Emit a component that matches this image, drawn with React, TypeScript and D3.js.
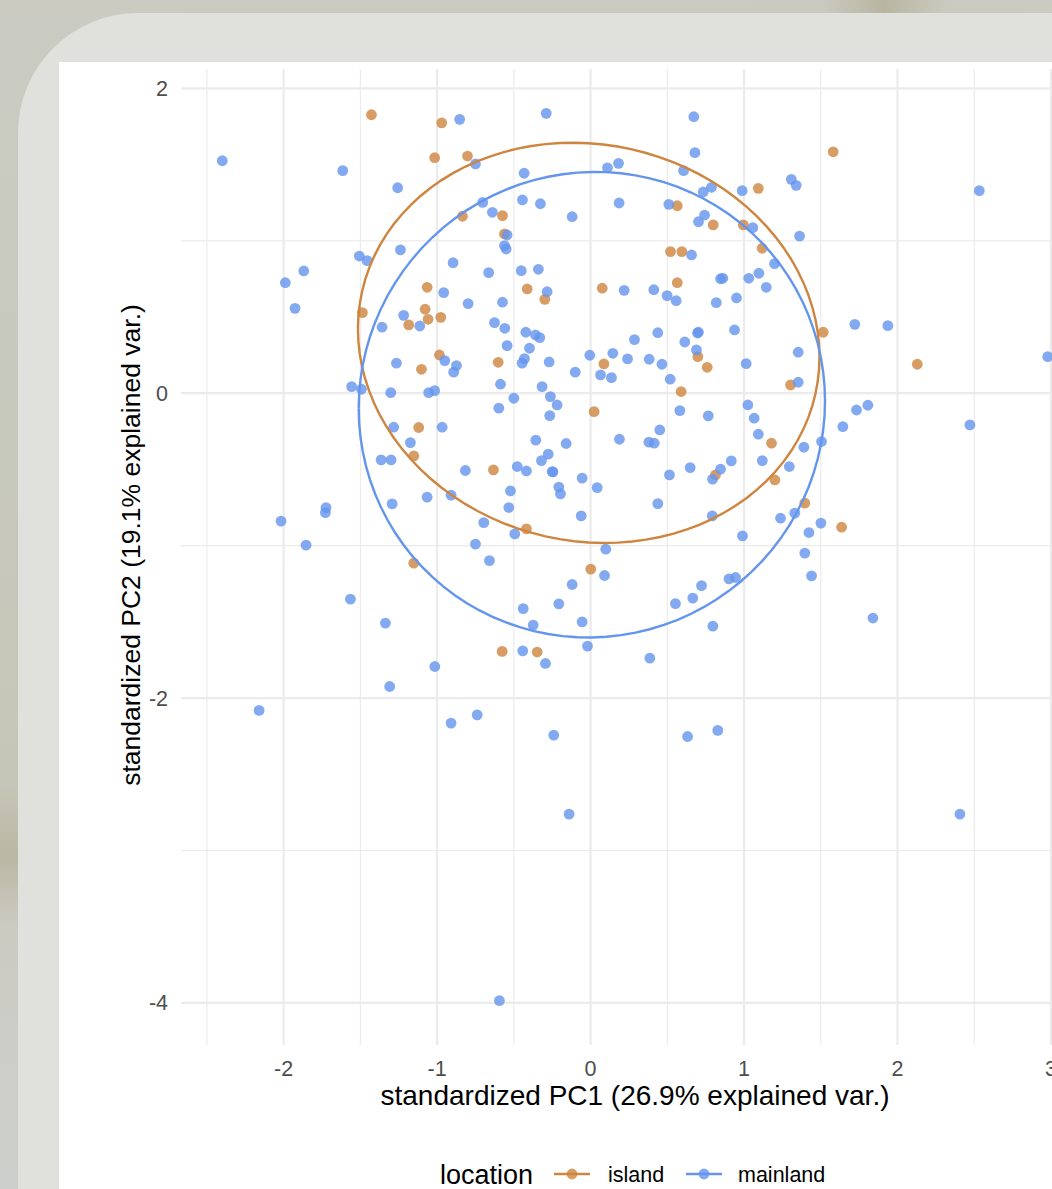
import * as d3 from "d3";

// PCA scores (standardized PC1, PC2)
const islandScores: [number, number][] = [
  [-1.428, 1.827], [-0.970, 1.774], [-1.016, 1.545], [-0.802, 1.556], [-0.574, 1.165], [-0.835, 1.161],
  [-0.561, 1.045], [-1.065, 0.695], [-1.078, 0.551], [-1.059, 0.485], [-0.976, 0.498], [-1.185, 0.448],
  [-1.487, 0.529], [-0.985, 0.251], [-1.102, 0.157], [-0.602, 0.203],
  [1.581, 1.584], [0.565, 1.230], [0.799, 1.104], [1.093, 1.344], [0.995, 1.104], [1.118, 0.951],
  [0.521, 0.929], [0.595, 0.929], [-0.413, 0.684], [-0.298, 0.616], [0.076, 0.689], [0.565, 0.725],
  [0.087, 0.192], [0.699, 0.240], [0.760, 0.170], [0.590, 0.011], [1.303, 0.054], [1.516, 0.400],
  [2.129, 0.190],
  [-1.120, -0.225], [-1.152, -0.411], [-1.152, -1.115],
  [0.023, -0.121], [-0.633, -0.503], [0.814, -0.536], [-0.418, -0.890], [0.001, -1.154], [-0.576, -1.694],
  [-0.348, -1.698],
  [1.179, -0.328], [1.201, -0.569], [1.396, -0.721], [1.636, -0.879],
];

const mainlandScores: [number, number][] = [
  [-2.40, 1.525], [-0.853, 1.797], [-1.615, 1.460], [-1.257, 1.348], [-0.750, 1.504], [-0.703, 1.252],
  [-0.640, 1.187], [-0.544, 1.038], [-0.561, 0.968], [-0.550, 0.946], [-1.507, 0.900], [-1.456, 0.870],
  [-1.239, 0.940], [-1.869, 0.802], [-1.989, 0.725], [-1.926, 0.557], [-0.896, 0.856], [-0.664, 0.791],
  [-0.957, 0.660], [-0.798, 0.588], [-0.574, 0.597], [-1.218, 0.511], [-1.113, 0.441], [-1.359, 0.433],
  [-0.626, 0.463], [-0.559, 0.426], [-0.544, 0.312], [-0.950, 0.214], [-0.874, 0.181], [-0.892, 0.138],
  [-1.265, 0.197], [-0.587, 0.059], [-1.557, 0.043], [-1.493, 0.026], [-1.302, 0.004], [-1.055, 0.004],
  [-1.016, 0.017],
  [-0.289, 1.836], [0.673, 1.814], [0.680, 1.578], [-0.433, 1.443], [-0.444, 1.268], [-0.327, 1.243],
  [-0.120, 1.158], [0.110, 1.479], [0.182, 1.508], [0.186, 1.248], [0.606, 1.460], [0.510, 1.239],
  [0.734, 1.320], [0.788, 1.351], [0.743, 1.169], [0.703, 1.125], [0.988, 1.329], [1.308, 1.403],
  [1.340, 1.364], [1.057, 1.086], [1.362, 1.031], [1.199, 0.850], [0.658, 0.907], [-0.452, 0.804],
  [-0.340, 0.813], [-0.283, 0.666], [0.219, 0.675], [0.412, 0.679], [0.499, 0.640], [0.558, 0.607],
  [0.819, 0.594], [0.847, 0.751], [0.862, 0.754], [0.951, 0.625], [1.031, 0.754], [1.097, 0.787],
  [1.145, 0.695], [-0.422, 0.400], [-0.359, 0.382], [-0.331, 0.365], [-0.398, 0.295], [-0.431, 0.227],
  [-0.446, 0.197], [-0.270, 0.205], [-0.100, 0.138], [-0.316, 0.043], [-0.005, 0.249], [0.145, 0.262],
  [0.065, 0.120], [0.136, 0.102], [0.241, 0.225], [0.286, 0.352], [0.382, 0.223], [0.438, 0.397],
  [0.465, 0.190], [0.519, 0.092], [0.614, 0.336], [0.703, 0.400], [0.697, 0.395], [0.690, 0.284],
  [0.938, 0.415], [1.014, 0.194], [1.353, 0.269], [1.353, 0.072],
  [2.533, 1.329], [1.722, 0.452], [1.937, 0.443], [2.979, 0.240],
  [-1.283, -0.223], [-0.967, -0.223], [-1.174, -0.324], [-1.365, -0.437], [-1.300, -0.437], [-0.816, -0.507],
  [-1.293, -0.726], [-1.065, -0.682], [-0.909, -0.669], [-1.724, -0.750], [-1.728, -0.783], [-2.017, -0.839],
  [-1.854, -0.997], [-1.565, -1.351], [-1.337, -1.508], [-1.015, -1.793], [-1.309, -1.924], [-2.160, -2.081],
  [-0.909, -2.164], [-0.739, -2.110],
  [-0.598, -0.098], [-0.500, -0.033], [-0.262, -0.022], [-0.218, -0.077], [-0.266, -0.147], [0.582, -0.114],
  [0.767, -0.149], [1.025, -0.077], [1.066, -0.164], [1.093, -0.269], [1.119, -0.442], [-0.357, -0.308],
  [-0.159, -0.330], [0.188, -0.302], [0.380, -0.321], [0.415, -0.328], [0.451, -0.241], [-0.276, -0.400],
  [-0.320, -0.442], [-0.478, -0.481], [-0.418, -0.510], [-0.250, -0.514], [-0.245, -0.516], [-0.055, -0.557],
  [0.043, -0.619], [-0.207, -0.616], [-0.196, -0.660], [-0.522, -0.641], [-0.533, -0.750], [-0.061, -0.805],
  [0.514, -0.536], [0.649, -0.488], [0.795, -0.564], [0.847, -0.498], [0.917, -0.444], [0.438, -0.724],
  [0.793, -0.805], [0.990, -0.936], [-0.696, -0.849], [-0.494, -0.923], [-0.750, -0.990], [-0.659, -1.098],
  [0.099, -1.023], [0.091, -1.196], [-0.120, -1.255], [-0.207, -1.382], [-0.439, -1.413], [-0.374, -1.521],
  [-0.055, -1.500], [-0.020, -1.659], [-0.442, -1.690], [-0.294, -1.773], [0.386, -1.738], [0.553, -1.380],
  [0.666, -1.344], [0.723, -1.262], [0.902, -1.218], [0.945, -1.209], [0.797, -1.528], [-0.240, -2.243],
  [0.632, -2.252], [0.829, -2.212], [-0.140, -2.761],
  [1.390, -0.354], [1.505, -0.317], [1.644, -0.219], [1.733, -0.110], [1.807, -0.079], [2.472, -0.208],
  [1.295, -0.481], [1.331, -0.787], [1.238, -0.820], [1.423, -0.914], [1.501, -0.852], [1.396, -1.049],
  [1.440, -1.198], [1.840, -1.475], [2.407, -2.761],
  [-0.594, -3.985],
];

const groups = ["island", "mainland"];
const xTicks = [-2, -1, 0, 1, 2, 3];
const xMinor = [-2.5, -1.5, -0.5, 0.5, 1.5, 2.5];
const yTicks = [2, 0, -2, -4];
const yMinor = [1, -1, -3];
const xTitle = "standardized PC1 (26.9% explained var.)";
const yTitle = "standardized PC2 (19.1% explained var.)";
const legendTitle = "location";
const ellipseProb = 0.68;

const colors: Record<string, string> = { island: "#cd853f", mainland: "#6495ed" };
const FONT = "'Liberation Sans', Arial, Helvetica, sans-serif";

// normal-probability ellipse like ggbiplot: mu + circle %*% chol(sigma) * ed
function ellipse(pts: [number, number][]) {
  const n = pts.length;
  const mx = d3.mean(pts, (d) => d[0]) as number;
  const my = d3.mean(pts, (d) => d[1]) as number;
  let sxx = 0, syy = 0, sxy = 0;
  pts.forEach(([x, y]) => {
    sxx += (x - mx) ** 2;
    syy += (y - my) ** 2;
    sxy += (x - mx) * (y - my);
  });
  sxx /= n - 1; syy /= n - 1; sxy /= n - 1;
  const r11 = Math.sqrt(sxx);
  const r12 = sxy / r11;
  const r22 = Math.sqrt(syy - r12 * r12);
  const ed = Math.sqrt(-2 * Math.log(1 - ellipseProb));
  return d3.range(0, 101).map((i) => {
    const t = -Math.PI + (2 * Math.PI * i) / 100;
    return [mx + ed * Math.cos(t) * r11, my + ed * (Math.cos(t) * r12 + Math.sin(t) * r22)] as [number, number];
  });
}

export default function App() {
  const W = 1052, H = 1189;
  const panel = { left: 181, right: 1089, top: 69, bottom: 1045 };

  const all = [...islandScores, ...mainlandScores];
  const [x0, x1] = d3.extent(all, (d) => d[0]) as [number, number];
  const [y0, y1] = d3.extent(all, (d) => d[1]) as [number, number];
  const ex = (x1 - x0) * 0.05, ey = (y1 - y0) * 0.05;

  const x = d3.scaleLinear().domain([x0 - ex, x1 + ex]).range([panel.left, panel.right]);
  const y = d3.scaleLinear().domain([y0 - ey, y1 + ey]).range([panel.bottom, panel.top]);

  const line = d3.line<[number, number]>().x((d) => x(d[0])).y((d) => y(d[1]));
  const series: Record<string, [number, number][]> = { island: islandScores, mainland: mainlandScores };

  const cardPath = `M18,${H} L18,133 A120,120 0 0 1 138,13 L${W},13 L${W},${H} Z`;
  const legendItems = [
    { key: "island", lx: 572, tx: 608 },
    { key: "mainland", lx: 704, tx: 738 },
  ];

  return (
    <div style={{ position: "absolute", left: 0, top: 0 }}>
      <svg width={W} height={H} style={{ display: "block" }}>
        <defs>
          <linearGradient id="bgTop" x1="0" x2="1" y1="0" y2="0">
            <stop offset="0" stopColor="#cbcbc1" />
            <stop offset="0.78" stopColor="#cbcac0" />
            <stop offset="0.84" stopColor="#b8b5a0" />
            <stop offset="0.9" stopColor="#cacac0" />
            <stop offset="1" stopColor="#cbcbc2" />
          </linearGradient>
          <linearGradient id="bgLeft" x1="0" x2="0" y1="0" y2="1">
            <stop offset="0" stopColor="#caccc3" />
            <stop offset="0.66" stopColor="#c6c6b8" />
            <stop offset="0.72" stopColor="#b9b8a4" />
            <stop offset="0.78" stopColor="#cbcbc2" />
            <stop offset="1" stopColor="#cdcfcc" />
          </linearGradient>
        </defs>
        <rect x={0} y={0} width={W} height={H} fill="url(#bgLeft)" />
        <rect x={0} y={0} width={W} height={14} fill="url(#bgTop)" />
        <path d={cardPath} fill="#e0e0dc" />
        <rect x={59} y={62} width={W - 59} height={H - 62} fill="#ffffff" />

        {/* grid */}
        <g>
          {xMinor.map((v) => (
            <line key={"xm" + v} x1={x(v)} x2={x(v)} y1={panel.top} y2={panel.bottom} stroke="#ebebeb" strokeWidth={1.2} />
          ))}
          {yMinor.map((v) => (
            <line key={"ym" + v} y1={y(v)} y2={y(v)} x1={panel.left} x2={panel.right} stroke="#ebebeb" strokeWidth={1.2} />
          ))}
          {xTicks.map((v) => (
            <line key={"x" + v} x1={x(v)} x2={x(v)} y1={panel.top} y2={panel.bottom} stroke="#ebebeb" strokeWidth={2.2} />
          ))}
          {yTicks.map((v) => (
            <line key={"y" + v} y1={y(v)} y2={y(v)} x1={panel.left} x2={panel.right} stroke="#ebebeb" strokeWidth={2.2} />
          ))}
        </g>

        {/* points */}
        {groups.map((g) => (
          <g key={g}>
            {series[g].map((d, i) => (
              <circle key={i} cx={x(d[0])} cy={y(d[1])} r={5.4} fill={colors[g]} fillOpacity={0.8} />
            ))}
          </g>
        ))}

        {/* ellipses */}
        {groups.map((g) => (
          <path key={"e" + g} d={line(ellipse(series[g])) || ""} fill="none" stroke={colors[g]} strokeWidth={2.4} />
        ))}

        {/* axes labels */}
        <g fontFamily={FONT} fontSize={21.5} fill="#4d4d4d">
          {xTicks.map((v) => (
            <text key={"xt" + v} x={x(v)} y={1076} textAnchor="middle">{v}</text>
          ))}
          {yTicks.map((v) => (
            <text key={"yt" + v} x={168} y={y(v) + 7.5} textAnchor="end">{v}</text>
          ))}
        </g>
        <text x={(panel.left + panel.right) / 2} y={1105} textAnchor="middle" fontFamily={FONT} fontSize={28} fill="#000">
          {xTitle}
        </text>
        <text transform={`translate(140,${(panel.top + panel.bottom) / 2 - 12}) rotate(-90)`} textAnchor="middle"
          fontFamily={FONT} fontSize={26.5} fill="#000">
          {yTitle}
        </text>

        {/* legend */}
        <g fontFamily={FONT}>
          <text x={440} y={1184} fontSize={27} fill="#000">{legendTitle}</text>
          {legendItems.map((it) => (
            <g key={it.key}>
              <line x1={it.lx - 18} x2={it.lx + 18} y1={1174} y2={1174} stroke={colors[it.key]} strokeWidth={2.5} />
              <circle cx={it.lx} cy={1174} r={5.4} fill={colors[it.key]} fillOpacity={0.8} />
              <text x={it.tx} y={1182} fontSize={21.5} fill="#000">{it.key}</text>
            </g>
          ))}
        </g>
      </svg>
    </div>
  );
}
